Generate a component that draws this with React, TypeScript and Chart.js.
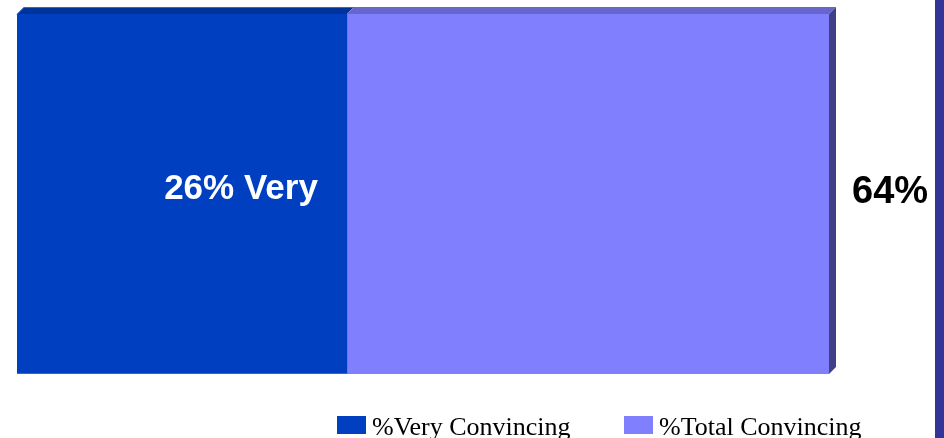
import React, { useEffect, useRef } from "react";
import { Chart, registerables } from "chart.js";

Chart.register(...registerables);

const categories = [""];
const seriesLabels = ["%Very Convincing", "%Total Convincing"];
const veryValues = [26];
const totalValues = [64];
const restValues = totalValues.map((t, i) => t - veryValues[i]);
const veryLabel = "26% Very";
const totalLabel = "64%";

const BLUE = "#0040C0";
const PURPLE = "#8080FF";

const depthPlugin = {
  id: "depth",
  afterDatasetsDraw(chart: any) {
    const ctx = chart.ctx;
    const dx = 7;
    const dy = -7;
    const m0 = chart.getDatasetMeta(0).data[0] as any;
    const m1 = chart.getDatasetMeta(1).data[0] as any;
    const top = m0.y - m0.height / 2;
    const bottom = m0.y + m0.height / 2;
    ctx.save();
    // top face blue
    ctx.fillStyle = "#003399";
    ctx.beginPath();
    ctx.moveTo(m0.base, top);
    ctx.lineTo(m0.base + dx, top + dy);
    ctx.lineTo(m0.x + dx, top + dy);
    ctx.lineTo(m0.x, top);
    ctx.closePath();
    ctx.fill();
    ctx.strokeStyle = "#3366CC";
    ctx.lineWidth = 1;
    ctx.beginPath();
    ctx.moveTo(m0.base, top + 0.5);
    ctx.lineTo(m0.base + dx, top + dy + 0.5);
    ctx.lineTo(m0.x + dx, top + dy + 0.5);
    ctx.stroke();
    // top face purple
    ctx.fillStyle = "#6666CC";
    ctx.beginPath();
    ctx.moveTo(m1.base, top);
    ctx.lineTo(m1.base + dx, top + dy);
    ctx.lineTo(m1.x + dx, top + dy);
    ctx.lineTo(m1.x, top);
    ctx.closePath();
    ctx.fill();
    // side face purple
    ctx.fillStyle = "#404088";
    ctx.beginPath();
    ctx.moveTo(m1.x, top);
    ctx.lineTo(m1.x + dx, top + dy);
    ctx.lineTo(m1.x + dx, bottom + dy);
    ctx.lineTo(m1.x, bottom);
    ctx.closePath();
    ctx.fill();
    // bottom edge highlight on blue
    ctx.strokeStyle = "#3366DD";
    ctx.beginPath();
    ctx.moveTo(m0.base, bottom - 0.5);
    ctx.lineTo(m0.x, bottom - 0.5);
    ctx.stroke();

    // labels
    ctx.font = "bold 35px 'Liberation Sans', Arial, sans-serif";
    ctx.textBaseline = "alphabetic";
    ctx.fillStyle = "#FFFFFF";
    ctx.textAlign = "right";
    ctx.fillText(veryLabel, m0.x - 29, 199);
    ctx.fillStyle = "#000000";
    ctx.textAlign = "left";
    ctx.font = "bold 38px 'Liberation Sans', Arial, sans-serif";
    ctx.fillText(totalLabel, m1.x + 23, 203);

    // right vertical bar
    ctx.fillStyle = "#333399";
    ctx.fillRect(935, 0, 9, chart.height);

    // legend
    const items = [
      { x: 337, color: BLUE, text: seriesLabels[0] },
      { x: 624, color: PURPLE, text: seriesLabels[1] },
    ];
    ctx.font = "26px 'Liberation Serif', 'Times New Roman', serif";
    ctx.textAlign = "left";
    items.forEach((it) => {
      ctx.fillStyle = it.color;
      ctx.fillRect(it.x, 416, 29, 18);
      ctx.fillStyle = "#000000";
      ctx.fillText(it.text, it.x + 35, 435);
    });
    ctx.restore();
  },
};

export default function App() {
  const ref = useRef<HTMLCanvasElement | null>(null);
  useEffect(() => {
    if (!ref.current) return;
    const chart = new Chart(ref.current, {
      type: "bar",
      data: {
        labels: categories,
        datasets: [
          {
            label: seriesLabels[0],
            data: veryValues,
            backgroundColor: BLUE,
            borderWidth: 0,
            barPercentage: 1,
            categoryPercentage: 1,
          },
          {
            label: seriesLabels[1],
            data: restValues,
            backgroundColor: PURPLE,
            borderWidth: 0,
            barPercentage: 1,
            categoryPercentage: 1,
          },
        ],
      },
      options: {
        indexAxis: "y",
        animation: false,
        responsive: false,
        maintainAspectRatio: false,
        layout: { padding: { left: 17, top: 14, right: 115, bottom: 64 } },
        scales: {
          x: { stacked: true, min: 0, max: 64, display: false },
          y: { stacked: true, display: false },
        },
        plugins: {
          legend: { display: false },
          tooltip: { enabled: false },
        },
      },
      plugins: [depthPlugin],
    });
    return () => chart.destroy();
  }, []);
  return (
    <div style={{ position: "absolute", left: 0, top: 0, width: 944, height: 438 }}>
      <canvas ref={ref} width={944} height={438} style={{ width: 944, height: 438 }} />
    </div>
  );
}
